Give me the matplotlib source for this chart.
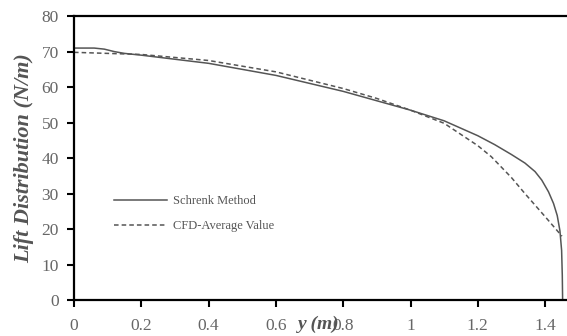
import matplotlib
matplotlib.use("Agg")
import matplotlib.pyplot as plt

# spanwise position (m) and lift per unit span (N/m)
y_schrenk = [0, 0.06, 0.09, 0.12, 0.15, 0.2, 0.4, 0.6, 0.8, 1.0, 1.1, 1.2, 1.25, 1.3,
             1.34, 1.37, 1.39, 1.41, 1.425, 1.436, 1.444, 1.449, 1.451, 1.452]
l_schrenk = [71, 71, 70.7, 70.0, 69.5, 69, 66.7, 63.3, 58.8, 53.5, 50.5, 46.3, 43.8, 41.0,
             38.6, 36.2, 33.8, 30.5, 27.2, 23.8, 19.5, 14, 7, 0]

y_cfd = [0, 0.2, 0.4, 0.6, 0.8, 0.9, 1.0, 1.1, 1.2, 1.24, 1.3, 1.34, 1.4, 1.45]
l_cfd = [69.8, 69.2, 67.5, 64.3, 59.6, 56.8, 53.5, 49.8, 43.5, 40.4, 34.5, 30, 23.5, 18]

xticks = [0, 0.2, 0.4, 0.6, 0.8, 1, 1.2, 1.4]
xtick_labels = ["0", "0.2", "0.4", "0.6", "0.8", "1", "1.2", "1.4"]
yticks = [0, 10, 20, 30, 40, 50, 60, 70, 80]

plt.rcParams['font.family'] = ['Liberation Serif', 'DejaVu Serif']

fig = plt.figure(figsize=(5.67, 3.36), dpi=100)
ax = fig.add_axes([0.1305, 0.107, 0.8695, 0.845])

ax.plot(y_schrenk, l_schrenk, color="#555555", lw=1.1, label="Schrenk Method")
ax.plot(y_cfd, l_cfd, color="#555555", lw=1.1, ls=(0, (3, 2)), label="CFD-Average Value")

ax.set_xlim(0, 1.465)
ax.set_ylim(0, 80)
ax.set_xticks(xticks)
ax.set_xticklabels(xtick_labels)
ax.set_yticks(yticks)
ax.tick_params(axis="both", labelsize=12.5, labelcolor="#666666", width=1.5, length=5, color="black")
ax.tick_params(axis="x", pad=8)
ax.tick_params(axis="y", pad=6)

for side in ["left", "bottom", "top"]:
    ax.spines[side].set_linewidth(1.6)
    ax.spines[side].set_color("black")
ax.spines["right"].set_visible(False)

ax.set_ylabel("Lift Distribution (N/m)", fontsize=16, fontstyle="italic", fontweight="bold",
              color="#555555", labelpad=5)
# x label sits down among the tick labels, as in the reference
fig.text(0.563, 0.022, "y (m)", fontsize=14, fontstyle="italic", fontweight="bold",
         color="#555555", ha="center", va="baseline")

ax.legend(loc="upper left", bbox_to_anchor=(0.058, 0.408), frameon=False, fontsize=9,
          handlelength=4.25, handletextpad=0.5, labelcolor="#555555", labelspacing=1.0)

fig.savefig("out.png", dpi=100)
